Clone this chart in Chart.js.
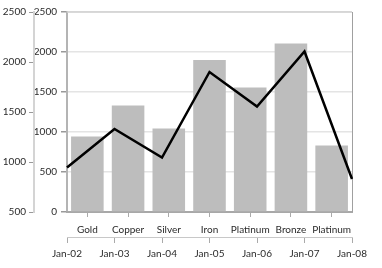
<!DOCTYPE html>
<html>
<head>
<meta charset="utf-8">
<script src="https://cdn.jsdelivr.net/npm/chart.js@4"></script>
<style>
html, body { margin: 0; padding: 0; background: #fff; }
#wrap { width: 382px; height: 268px; }
</style>
</head>
<body>
<div id="wrap"><canvas id="chart"></canvas></div>
<script>
// categories and values
const metals = ["Gold", "Copper", "Silver", "Iron", "Platinum", "Bronze", "Platinum"];
const dates = ["Jan-02", "Jan-03", "Jan-04", "Jan-05", "Jan-06", "Jan-07", "Jan-08"];
const barValues = [945, 1330, 1045, 1900, 1555, 2105, 830];
const lineValues = [945, 1330, 1045, 1900, 1555, 2105, 830];
const innerRange = [0, 2500];
const outerRange = [500, 2500];

const textColor = "#2a2a2a";
const font = { family: "Lato, 'Liberation Sans', sans-serif", size: 10 };
const plain = v => String(v);

// light frame on top and right of the plot
const frame = {
  id: "frame",
  beforeDatasetsDraw(chart) {
    const a = chart.chartArea, ctx = chart.ctx;
    ctx.save();
    ctx.strokeStyle = "#d2d2d2";
    ctx.lineWidth = 1.5;
    ctx.beginPath();
    ctx.moveTo(a.left, a.top);
    ctx.lineTo(a.right, a.top);
    ctx.stroke();
    ctx.strokeStyle = "#a0a0a0";
    ctx.lineWidth = 1;
    ctx.beginPath();
    ctx.moveTo(a.right + 0.5, a.top);
    ctx.lineTo(a.right + 0.5, a.bottom);
    ctx.stroke();
    ctx.restore();
  }
};

new Chart(document.getElementById("chart"), {
  type: "bar",
  data: {
    labels: metals,
    datasets: [{
      label: "Metals",
      data: barValues,
      backgroundColor: "#bdbdbd",
      xAxisID: "x",
      yAxisID: "y",
      grouped: false,
      categoryPercentage: 1,
      barPercentage: 0.8,
      order: 2
    }, {
      type: "line",
      label: "Trend",
      data: lineValues,
      borderColor: "#000",
      borderWidth: 2.5,
      pointRadius: 0,
      tension: 0,
      fill: false,
      grouped: false,
      xAxisID: "x2",
      yAxisID: "y2",
      order: 1
    }]
  },
  plugins: [frame],
  options: {
    responsive: true,
    maintainAspectRatio: false,
    animation: false,
    layout: { padding: { top: 12, right: 30, left: 0, bottom: 0 } },
    plugins: { legend: { display: false }, tooltip: { enabled: false } },
    scales: {
      y: {
        position: "left",
        weight: 0,
        min: innerRange[0],
        max: innerRange[1],
        ticks: { stepSize: 500, color: textColor, font: font, padding: 4, callback: plain },
        grid: { color: "#e4e4e4", tickColor: "#999", tickLength: 6, lineWidth: 1.5 },
        border: { display: true, color: "#b4b4b4", width: 2 },
        afterFit: s => { s.width = 33; }
      },
      y2: {
        position: "left",
        weight: 1,
        min: outerRange[0],
        max: outerRange[1],
        ticks: { stepSize: 500, color: textColor, font: font, padding: 3, callback: plain },
        grid: { drawOnChartArea: false, tickColor: "#999", tickLength: 5 },
        border: { display: true, color: "#d4d4d4", width: 2 },
        afterFit: s => { s.width = 34; }
      },
      x: {
        type: "category",
        position: "bottom",
        weight: 0,
        offset: true,
        ticks: { color: textColor, font: font, padding: 7, autoSkip: false, maxRotation: 0 },
        grid: { offset: false, drawOnChartArea: false, tickColor: "#aaa", tickLength: 5 },
        border: { display: true, color: "#a8a8a8", width: 2 },
        afterFit: s => { s.height = 25; }
      },
      x2: {
        type: "category",
        labels: dates,
        position: "bottom",
        weight: 1,
        offset: false,
        ticks: { color: textColor, font: font, padding: 5, autoSkip: false, maxRotation: 0 },
        grid: { offset: false, drawOnChartArea: false, tickColor: "#aaa", tickLength: 6 },
        border: { display: true, color: "#c8c8c8", width: 1 },
        afterFit: s => { s.height = 31; }
      }
    }
  }
});
</script>
</body>
</html>
